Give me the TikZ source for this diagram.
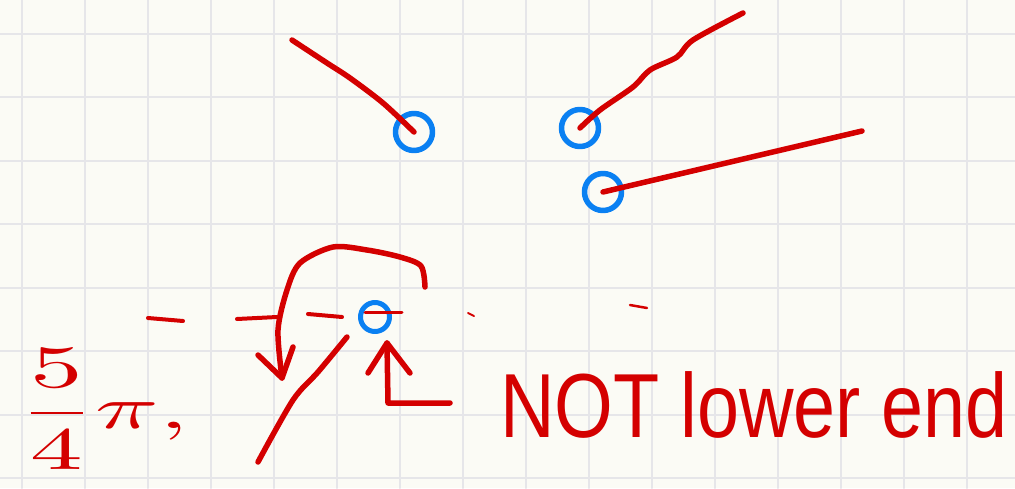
\documentclass[tikz,border=0pt]{standalone}
\usepackage{amsmath}
\usepackage{fontspec}
\setsansfont{Liberation Sans}
\definecolor{paper}{HTML}{FBFBF5}
\definecolor{rule}{HTML}{E6E6E9}
\definecolor{ink}{HTML}{D40000}
\definecolor{pen}{HTML}{0A80F2}

\begin{document}
\begin{tikzpicture}[x=1pt,y=-1pt,line cap=round,line join=round,
  stroke/.style={ink,line width=5.5pt},
  tick/.style={ink,line width=4pt},
  ring/.style={circle,draw=pen,line width=5.5pt,minimum size=37pt,inner sep=0pt}]
  \fill[paper] (0,0) rectangle (1015,488);
  \useasboundingbox (0,0) rectangle (1015,488);
  \foreach \gx in {0,...,15}
    \draw[rule,line width=2pt] ({22+63*\gx},0) -- ({22+63*\gx},488);
  \foreach \gy in {0,...,7}
    \draw[rule,line width=2pt] (0,{33.5+63.5*\gy}) -- (1015,{33.5+63.5*\gy});
  % the three bobs above
  \node[ring] (left) at (414,132) {};
  \node[ring] (mid) at (580,128) {};
  \node[ring] (right) at (603,192) {};
  \node[ring,minimum size=29pt,line width=5pt] (top) at (375,317) {};
  \draw[stroke] plot[smooth] coordinates {(left.center) (383,103) (350,78) (327,63) (292,40)};
  \draw[stroke] plot[smooth] coordinates {(mid.center) (600,110) (633,87) (650,70) (677,57) (693,40) (743,13)};
  \draw[stroke] (right.center) -- (862,131);
  % horizontal dashes
  \draw[tick] (148,318) -- (183,321);
  \draw[tick] (237,319) -- (277,317);
  \draw[tick] (308,314) -- (342,317);
  \draw[ink,line width=3pt] (365,312) -- (402,312);
  \draw[ink,line width=2pt] (468,313) -- (474,316);
  \draw[ink,line width=2.5pt] (630,305) -- (647,308);
  % rod and swing
  \draw[stroke] plot[smooth] coordinates {(347,337) (318,372) (293,400) (258,462)};
  \draw[stroke] plot[smooth] coordinates {(425,287) (421,266) (400,257) (367,250) (333,247) (300,263) (287,290) (278,330) (282,378)};
  \draw[stroke] (258,355) -- (282,378) -- (293,347);
  % pointer to the bob
  \coordinate (tail) at (450,403);
  \draw[stroke] (tail) -- (388,403) -- (387,343);
  \draw[stroke] (368,373) -- (387,343) -- (410,373);
  \node[ink,font=\sffamily\fontsize{91}{91}\selectfont,xscale=.83,anchor=base west,inner sep=0pt]
    (note) at (500,437) {NOT lower end};
  \node[ink,xscale=10.5,yscale=6,anchor=base west,inner sep=0pt]
    (angle) at (16,428) {$\dfrac{5}{4}\pi,$};
\end{tikzpicture}
\end{document}
